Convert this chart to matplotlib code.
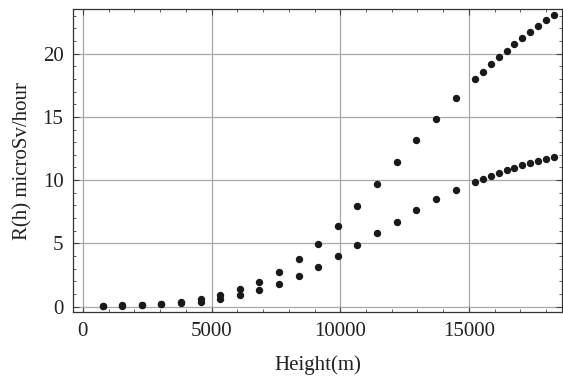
import matplotlib.pyplot as plt
from matplotlib.ticker import MultipleLocator

# heights in metres (every 2500 ft up to 47500 ft, then every 1000 ft)
height_low = [762, 1524, 2286, 3048, 3810, 4572, 5334, 6096, 6858, 7620,
              8382, 9144, 9906, 10668, 11430, 12192, 12954, 13716, 14478]
height_high = [15240, 15545, 15850, 16154, 16459, 16764, 17069, 17374,
               17678, 17983, 18288]

# upper series (microSv/hour)
rate_a_low = [0.06, 0.09, 0.14, 0.22, 0.36, 0.58, 0.90, 1.37, 1.95, 2.74,
              3.77, 4.98, 6.38, 7.96, 9.68, 11.42, 13.15, 14.86, 16.47]
rate_a_high = [18.0, 18.58, 19.16, 19.72, 20.24, 20.74, 21.24, 21.72,
               22.19, 22.64, 23.06]

# lower series
rate_b_low = [0.05, 0.07, 0.11, 0.18, 0.29, 0.40, 0.63, 0.92, 1.32, 1.82,
              2.43, 3.14, 3.98, 4.88, 5.80, 6.72, 7.64, 8.49, 9.22]
rate_b_high = [9.88, 10.12, 10.36, 10.60, 10.81, 10.99, 11.18, 11.36,
               11.49, 11.65, 11.81]

plt.rcParams['font.family'] = ['Liberation Serif', 'DejaVu Serif']

fig = plt.figure(figsize=(5.63, 3.77), dpi=100)
ax = fig.add_axes([0.130, 0.172, 0.868, 0.803])

dot = dict(linestyle='none', marker='o', markersize=4.3, color='#1a1a1a')
ax.plot(height_low + height_high, rate_a_low + rate_a_high, **dot)
ax.plot(height_low + height_high, rate_b_low + rate_b_high, **dot)

ax.set_xlim(-377, 18610)
ax.set_ylim(-0.44, 23.5)

ax.xaxis.set_major_locator(MultipleLocator(5000))
ax.xaxis.set_minor_locator(MultipleLocator(1000))
ax.yaxis.set_major_locator(MultipleLocator(5))
ax.yaxis.set_minor_locator(MultipleLocator(1))

ax.grid(True, which='major', color='#a8a8a8', linewidth=0.9)
ax.set_axisbelow(True)

ax.tick_params(which='both', direction='in', top=True, right=True,
               color='#444444', labelsize=15, labelcolor='#222222')
ax.tick_params(which='major', length=4, width=0.8)
ax.tick_params(which='minor', length=2.2, width=0.6)
ax.tick_params(axis='x', pad=7)
ax.tick_params(axis='y', pad=7)
for s in ax.spines.values():
    s.set_color('#333333')
    s.set_linewidth(0.9)

ax.set_xlabel('Height(m)', fontsize=15, color='#222222', labelpad=10)
ax.set_ylabel('R(h) microSv/hour', fontsize=15, color='#222222', labelpad=7)

fig.savefig('out.png', dpi=100)
